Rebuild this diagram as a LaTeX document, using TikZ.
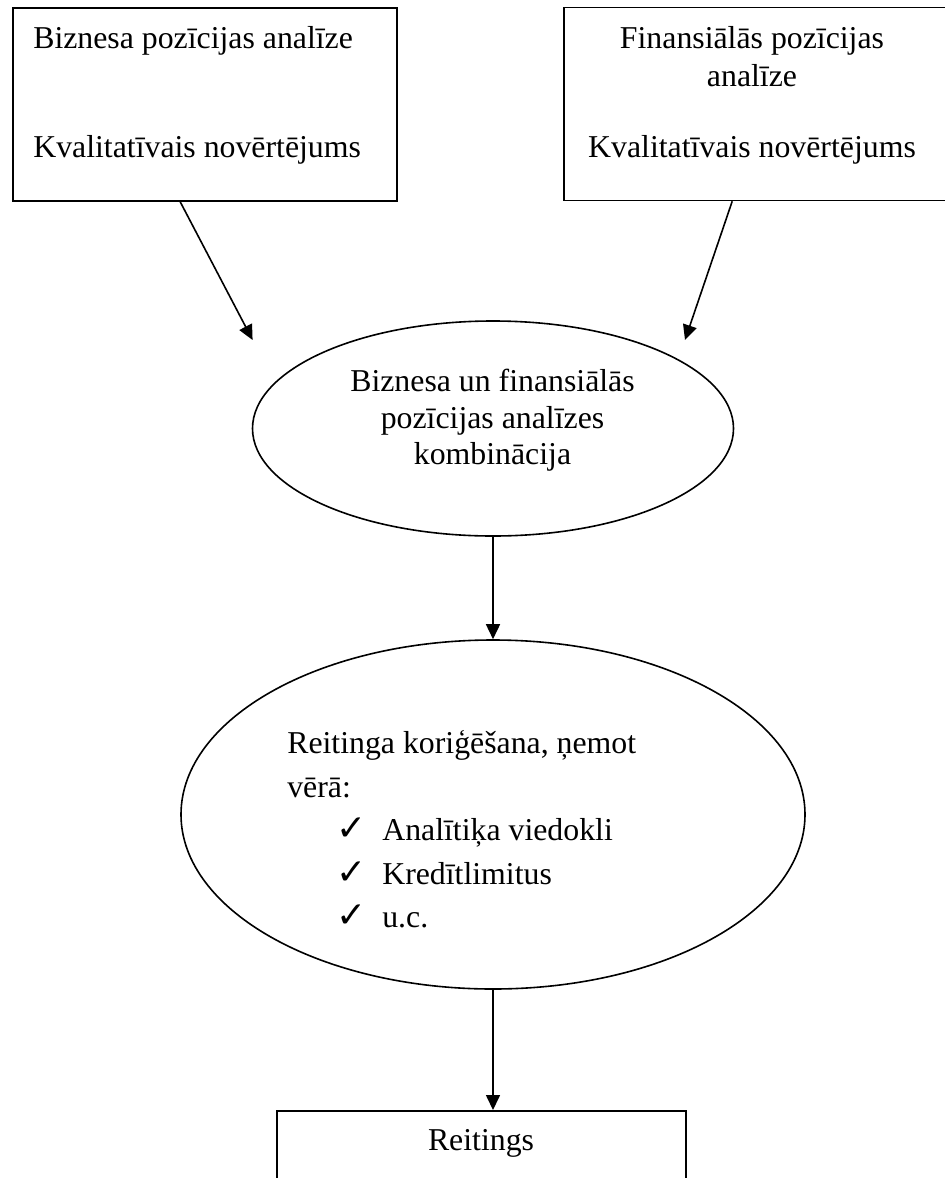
\documentclass[tikz,border=0pt]{standalone}
\usepackage{fontspec}
\setmainfont{Liberation Serif}
\newfontfamily\dejavu{DejaVu Sans}
\usetikzlibrary{arrows.meta,positioning,shapes.geometric,calc}
\newcommand{\chk}{\makebox[46pt][l]{\dejavu\fontsize{36}{36}\selectfont ✓}}

\begin{document}
\begin{tikzpicture}[
  x=1pt, y=-1pt,
  line width=1.6pt,
  box/.style={draw, rectangle, inner sep=0pt, minimum width=384pt, minimum height=193pt},
  oval/.style={draw, ellipse, inner sep=0pt},
  txt/.style={inner sep=0pt, font={\fontsize{31.8}{#1}\selectfont}},
  txt/.default=38,
  arr/.style={-{Triangle[length=15pt, width=14pt]}}
]
  \useasboundingbox (0,0) rectangle (945,1178);

  % shapes
  \node[box] (bizbox) at (205,104.5) {};
  \node[box] (finbox) at (756,104) {};
  \node[oval, minimum width=481pt, minimum height=215pt] (kombell) at (493,428.5) {};
  \node[oval, minimum width=624pt, minimum height=349pt] (korell) at (493,814.5) {};
  \node[box, minimum width=409pt, minimum height=140pt, anchor=north west] (rtgbox) at (276,1110) {};

  % texts
  \node[txt=38, anchor=north west, align=left] (biztxt) at (32.5,21.4)
    {\strut Biznesa pozīcijas analīze\\[71pt]Kvalitatīvais novērtējums};
  \node[txt=38.3, anchor=north, align=center] (fintxt) at (752,20.9)
    {\strut Finansiālās pozīcijas\\analīze\\[32.4pt]Kvalitatīvais novērtējums};
  \node[txt=36.8, anchor=north, align=center] (komtxt) at (492.5,364.7)
    {\strut Biznesa un finansiālās\\pozīcijas analīzes\\kombinācija};
  \node[txt=43.5, anchor=north west, align=left] (kortxt) at (286.5,722.5)
    {\strut Reitinga koriģēšana, ņemot\\vērā:\\
     \hspace*{49pt}\chk Analītiķa viedokli\\
     \hspace*{49pt}\chk Kredītlimitus\\
     \hspace*{49pt}\chk u.c.};
  \node[txt, anchor=base] (rtgtxt) at (481,1150) {Reitings};

  % connectors
  \coordinate (bizend) at (252.6,340);
  \coordinate (finend) at (685,340);
  \draw[arr] ($(bizbox.south west)+(168,0)$) -- (bizend);
  \draw[arr] ($(finbox.south west)+(169,0)$) -- (finend);
  \draw[arr] (kombell.south) -- (korell.north);
  \draw[arr] (korell.south) -- (korell.south |- rtgbox.north);
\end{tikzpicture}
\end{document}
